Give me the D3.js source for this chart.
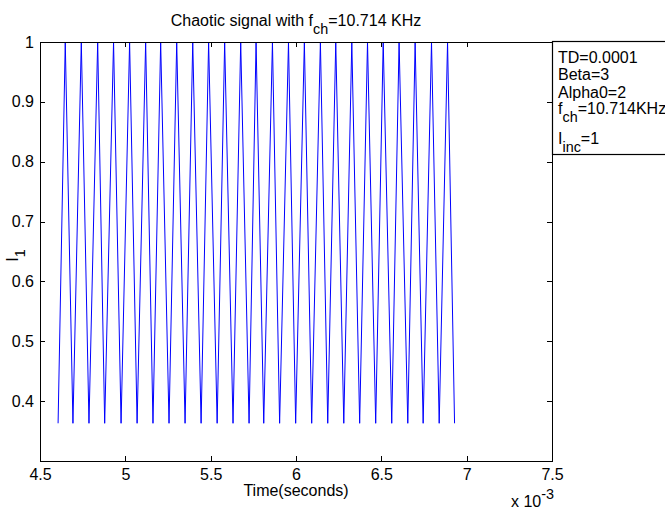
<!DOCTYPE html>
<html>
<head>
<meta charset="utf-8">
<script src="https://cdn.jsdelivr.net/npm/d3@7"></script>
<style>
  html, body { margin: 0; padding: 0; background: #fff; }
  svg { display: block; font-family: "Liberation Sans", Arial, sans-serif; }
</style>
</head>
<body>
<div id="chart"></div>
<script>
/* Chaotic signal, zig-zag current vs time (time in units of 1e-3 s). */

// vertices of the plotted line
var timeMs = [4.606, 4.648, 4.693, 4.742, 4.787, 4.838, 4.879, 4.931, 4.975, 5.025,
  5.069, 5.119, 5.162, 5.207, 5.256, 5.301, 5.350, 5.395, 5.444, 5.488,
  5.538, 5.582, 5.631, 5.676, 5.725, 5.766, 5.811, 5.862, 5.904, 5.956,
  5.998, 6.049, 6.092, 6.143, 6.186, 6.233, 6.280, 6.327, 6.373, 6.419,
  6.467, 6.511, 6.561, 6.604, 6.655, 6.698, 6.745, 6.794, 6.839, 6.888, 6.929];
var current = [0.363, 1, 0.363, 1, 0.363, 1, 0.363, 1, 0.363, 1,
  0.363, 1, 0.363, 1, 0.363, 1, 0.363, 1, 0.363, 1,
  0.363, 1, 0.363, 1, 0.363, 1, 0.363, 1, 0.363, 1,
  0.363, 1, 0.363, 1, 0.363, 1, 0.363, 1, 0.363, 1,
  0.363, 1, 0.363, 1, 0.363, 1, 0.363, 1, 0.363, 1, 0.363];

var xTicks = [4.5, 5, 5.5, 6, 6.5, 7, 7.5];
var yTicks = [0.4, 0.5, 0.6, 0.7, 0.8, 0.9, 1];

// legend lines: [main text, subscript, rest]
var notes = [
  ["TD=0.0001", "", ""],
  ["Beta=3", "", ""],
  ["Alpha0=2", "", ""],
  ["f", "ch", "=10.714KHz"],
  ["I", "inc", "=1"]
];
var noteBaselines = [63, 80, 98, 114, 144];

(function () {
  var W = 665, H = 512;
  var axL = 40, axR = 552, axT = 42, axB = 461;
  var fs = 16;
  var font = "'Liberation Sans', Arial, sans-serif";

  var svg = d3.select("#chart").append("svg")
    .attr("width", W).attr("height", H)
    .style("font-size", fs + "px");

  var x = d3.scaleLinear().domain([4.5, 7.5]).range([axL, axR]);
  var y = d3.scaleLinear().domain([0.3, 1]).range([axB, axT]);

  svg.append("clipPath").attr("id", "clip")
    .append("rect").attr("x", axL).attr("y", axT - 1)
    .attr("width", axR - axL).attr("height", axB - axT + 2);

  var pts = timeMs.map(function (t, i) { return [t, current[i]]; });
  var line = d3.line()
    .x(function (d) { return x(d[0]); })
    .y(function (d) { return y(d[1]); });

  svg.append("path").datum(pts)
    .attr("clip-path", "url(#clip)")
    .attr("fill", "none")
    .attr("stroke", "#0000ff")
    .attr("stroke-width", 1)
    .attr("d", line);

  function styleAxis(g) {
    g.selectAll("path, line").attr("stroke", "#000").attr("shape-rendering", "crispEdges");
    g.selectAll("text").attr("fill", "#000").style("font-size", fs + "px")
      .style("font-family", font);
  }

  svg.append("g").attr("transform", "translate(0," + axB + ")")
    .call(d3.axisBottom(x).tickValues(xTicks).tickSize(-5).tickSizeOuter(0)
      .tickPadding(8).tickFormat(function (d) { return String(d); }))
    .call(styleAxis);
  svg.append("g").attr("transform", "translate(0," + axT + ")")
    .call(d3.axisTop(x).tickValues(xTicks).tickSize(-5).tickSizeOuter(0).tickFormat(""))
    .call(styleAxis);
  svg.append("g").attr("transform", "translate(" + axL + ",0)")
    .call(d3.axisLeft(y).tickValues(yTicks).tickSize(-5).tickSizeOuter(0)
      .tickPadding(6).tickFormat(function (d) { return String(d); }))
    .call(styleAxis);
  svg.append("g").attr("transform", "translate(" + axR + ",0)")
    .call(d3.axisRight(y).tickValues(yTicks).tickSize(-5).tickSizeOuter(0).tickFormat(""))
    .call(styleAxis);

  // title
  var title = svg.append("text")
    .attr("x", (axL + axR) / 2).attr("y", 26)
    .attr("text-anchor", "middle");
  title.append("tspan").text("Chaotic signal with f");
  title.append("tspan").attr("dy", 8).style("font-size", (fs * 0.9) + "px").text("ch");
  title.append("tspan").attr("dy", -8).text("=10.714 KHz");

  // x label and exponent
  svg.append("text")
    .attr("x", (axL + axR) / 2).attr("y", 496)
    .attr("text-anchor", "middle")
    .text("Time(seconds)");
  var expo = svg.append("text").attr("x", 511).attr("y", 507);
  expo.append("tspan").text("x 10");
  expo.append("tspan").attr("dy", -8).style("font-size", (fs * 0.9) + "px").text("-3");

  // y label
  var yl = svg.append("text")
    .attr("transform", "translate(18," + ((axT + axB) / 2 + 4) + ") rotate(-90)")
    .attr("text-anchor", "middle");
  yl.append("tspan").text("I");
  yl.append("tspan").attr("dy", 7).style("font-size", (fs * 0.9) + "px").text("1");

  // parameter box
  svg.append("rect")
    .attr("x", axR + 0.5).attr("y", axT - 0.5)
    .attr("width", 140).attr("height", 155 - axT)
    .attr("fill", "#fff").attr("stroke", "#000").attr("stroke-width", 1.2);

  notes.forEach(function (n, i) {
    var t = svg.append("text").attr("x", 558).attr("y", noteBaselines[i]);
    t.append("tspan").text(n[0]);
    if (n[1]) {
      t.append("tspan").attr("dy", 8).style("font-size", (fs * 0.9) + "px").text(n[1]);
      t.append("tspan").attr("dy", -8).text(n[2]);
    }
  });
})();
</script>
</body>
</html>
